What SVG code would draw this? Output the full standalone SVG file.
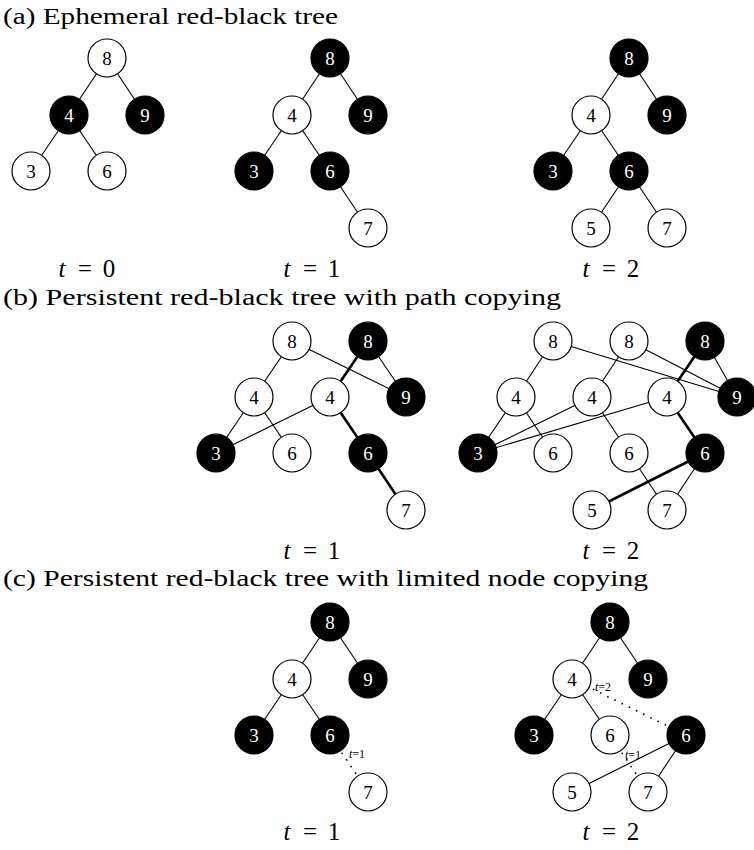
<svg xmlns="http://www.w3.org/2000/svg" width="754" height="850" viewBox="0 0 754 850" font-family="'Liberation Serif', 'Times New Roman', Times, 'DejaVu Serif', serif">
<style>
text{font-family:'Liberation Serif','Times New Roman',Times,'DejaVu Serif',serif}
.title{font-size:24px;fill:#000}
.lab{font-size:25px;fill:#000;text-anchor:middle}
.it{font-style:italic}
.sm{font-size:12px;fill:#000}
.w circle{fill:#fff;stroke:#000;stroke-width:1.2}
.b circle{fill:#000;stroke:#000;stroke-width:1.2}
.w text,.b text{font-size:19px;text-anchor:middle}
.w text{fill:#000}
.b text{fill:#fff}
.e line{stroke:#000;stroke-width:1.1}
.e line.k{stroke-width:2.6}
.e line.d{stroke-width:1.8;stroke-dasharray:0 8;stroke-linecap:round}
</style>
<rect width="754" height="850" fill="#fff"/>
<text class="title" x="3" y="24" textLength="335" lengthAdjust="spacingAndGlyphs">(a) Ephemeral red-black tree</text>
<text class="title" x="3" y="305" textLength="558" lengthAdjust="spacingAndGlyphs">(b) Persistent red-black tree with path copying</text>
<text class="title" x="3" y="586" textLength="645" lengthAdjust="spacingAndGlyphs">(c) Persistent red-black tree with limited node copying</text>

<g id="connectors" class="e">
<!-- (a) t=0 -->
<line x1="107" y1="58" x2="69" y2="115"/><line x1="107" y1="58" x2="145" y2="115"/>
<line x1="69" y1="115" x2="31" y2="171"/><line x1="69" y1="115" x2="107" y2="171"/>
<!-- (a) t=1 -->
<line x1="330" y1="58" x2="292" y2="115"/><line x1="330" y1="58" x2="368" y2="115"/>
<line x1="292" y1="115" x2="254" y2="171"/><line x1="292" y1="115" x2="330" y2="171"/>
<line x1="330" y1="171" x2="368" y2="228"/>
<!-- (a) t=2 -->
<line x1="629" y1="58" x2="591" y2="115"/><line x1="629" y1="58" x2="667" y2="115"/>
<line x1="591" y1="115" x2="553" y2="171"/><line x1="591" y1="115" x2="629" y2="171"/>
<line x1="629" y1="171" x2="591" y2="228"/><line x1="629" y1="171" x2="667" y2="228"/>
<!-- (b) t=1 -->
<line x1="292" y1="341" x2="254" y2="397"/><line x1="292" y1="341" x2="406" y2="397"/>
<line x1="368" y1="341" x2="406" y2="397"/>
<line x1="254" y1="397" x2="216" y2="453"/><line x1="254" y1="397" x2="292" y2="453"/>
<line x1="330" y1="397" x2="216" y2="453"/>
<line class="k" x1="368" y1="341" x2="330" y2="397"/>
<line class="k" x1="330" y1="397" x2="368" y2="453"/>
<line class="k" x1="368" y1="453" x2="406" y2="510"/>
<!-- (b) t=2 -->
<line x1="553" y1="341" x2="516" y2="397"/><line x1="553" y1="341" x2="737" y2="397"/>
<line x1="629" y1="341" x2="592" y2="397"/><line x1="629" y1="341" x2="737" y2="397"/>
<line x1="705" y1="341" x2="737" y2="397"/>
<line x1="516" y1="397" x2="478" y2="453"/><line x1="516" y1="397" x2="553" y2="453"/>
<line x1="592" y1="397" x2="478" y2="453"/><line x1="592" y1="397" x2="629" y2="453"/>
<line x1="667" y1="397" x2="478" y2="453"/>
<line x1="629" y1="453" x2="667" y2="510"/><line x1="705" y1="453" x2="667" y2="510"/>
<line class="k" x1="705" y1="341" x2="667" y2="397"/>
<line class="k" x1="667" y1="397" x2="705" y2="453"/>
<line class="k" x1="705" y1="453" x2="592" y2="510"/>
<!-- (c) t=1 -->
<line x1="330" y1="622" x2="292" y2="679"/><line x1="330" y1="622" x2="368" y2="679"/>
<line x1="292" y1="679" x2="254" y2="735"/><line x1="292" y1="679" x2="330" y2="735"/>
<line class="d" x1="330" y1="735" x2="368" y2="792" stroke-dashoffset="2"/>
<!-- (c) t=2 -->
<line x1="610" y1="622" x2="572" y2="679"/><line x1="610" y1="622" x2="648" y2="679"/>
<line x1="572" y1="679" x2="534" y2="735"/><line x1="572" y1="679" x2="610" y2="735"/>
<line class="d" x1="572" y1="679" x2="686" y2="735"/>
<line class="d" x1="610" y1="735" x2="648" y2="792" stroke-dashoffset="2"/>
<line x1="686" y1="735" x2="572" y2="792"/><line x1="686" y1="735" x2="648" y2="792"/>
</g>

<!-- (a) t=0 nodes -->
<g id="a0-8" class="w"><circle cx="107" cy="58" r="19"/><text x="107" y="64.5">8</text></g>
<g id="a0-4" class="b"><circle cx="69" cy="115" r="19"/><text x="69" y="121.5">4</text></g>
<g id="a0-9" class="b"><circle cx="145" cy="115" r="19"/><text x="145" y="121.5">9</text></g>
<g id="a0-3" class="w"><circle cx="31" cy="171" r="19"/><text x="31" y="177.5">3</text></g>
<g id="a0-6" class="w"><circle cx="107" cy="171" r="19"/><text x="107" y="177.5">6</text></g>
<!-- (a) t=1 nodes -->
<g id="a1-8" class="b"><circle cx="330" cy="58" r="19"/><text x="330" y="64.5">8</text></g>
<g id="a1-4" class="w"><circle cx="292" cy="115" r="19"/><text x="292" y="121.5">4</text></g>
<g id="a1-9" class="b"><circle cx="368" cy="115" r="19"/><text x="368" y="121.5">9</text></g>
<g id="a1-3" class="b"><circle cx="254" cy="171" r="19"/><text x="254" y="177.5">3</text></g>
<g id="a1-6" class="b"><circle cx="330" cy="171" r="19"/><text x="330" y="177.5">6</text></g>
<g id="a1-7" class="w"><circle cx="368" cy="228" r="19"/><text x="368" y="234.5">7</text></g>
<!-- (a) t=2 nodes -->
<g id="a2-8" class="b"><circle cx="629" cy="58" r="19"/><text x="629" y="64.5">8</text></g>
<g id="a2-4" class="w"><circle cx="591" cy="115" r="19"/><text x="591" y="121.5">4</text></g>
<g id="a2-9" class="b"><circle cx="667" cy="115" r="19"/><text x="667" y="121.5">9</text></g>
<g id="a2-3" class="b"><circle cx="553" cy="171" r="19"/><text x="553" y="177.5">3</text></g>
<g id="a2-6" class="b"><circle cx="629" cy="171" r="19"/><text x="629" y="177.5">6</text></g>
<g id="a2-5" class="w"><circle cx="591" cy="228" r="19"/><text x="591" y="234.5">5</text></g>
<g id="a2-7" class="w"><circle cx="667" cy="228" r="19"/><text x="667" y="234.5">7</text></g>
<!-- (b) t=1 nodes -->
<g id="b1-8a" class="w"><circle cx="292" cy="341" r="19"/><text x="292" y="347.5">8</text></g>
<g id="b1-8b" class="b"><circle cx="368" cy="341" r="19"/><text x="368" y="347.5">8</text></g>
<g id="b1-4a" class="w"><circle cx="254" cy="397" r="19"/><text x="254" y="403.5">4</text></g>
<g id="b1-4b" class="w"><circle cx="330" cy="397" r="19"/><text x="330" y="403.5">4</text></g>
<g id="b1-9" class="b"><circle cx="406" cy="397" r="19"/><text x="406" y="403.5">9</text></g>
<g id="b1-3" class="b"><circle cx="216" cy="453" r="19"/><text x="216" y="459.5">3</text></g>
<g id="b1-6a" class="w"><circle cx="292" cy="453" r="19"/><text x="292" y="459.5">6</text></g>
<g id="b1-6b" class="b"><circle cx="368" cy="453" r="19"/><text x="368" y="459.5">6</text></g>
<g id="b1-7" class="w"><circle cx="406" cy="510" r="19"/><text x="406" y="516.5">7</text></g>
<!-- (b) t=2 nodes -->
<g id="b2-8a" class="w"><circle cx="553" cy="341" r="19"/><text x="553" y="347.5">8</text></g>
<g id="b2-8b" class="w"><circle cx="629" cy="341" r="19"/><text x="629" y="347.5">8</text></g>
<g id="b2-8c" class="b"><circle cx="705" cy="341" r="19"/><text x="705" y="347.5">8</text></g>
<g id="b2-4a" class="w"><circle cx="516" cy="397" r="19"/><text x="516" y="403.5">4</text></g>
<g id="b2-4b" class="w"><circle cx="592" cy="397" r="19"/><text x="592" y="403.5">4</text></g>
<g id="b2-4c" class="w"><circle cx="667" cy="397" r="19"/><text x="667" y="403.5">4</text></g>
<g id="b2-9" class="b"><circle cx="737" cy="397" r="19"/><text x="737" y="403.5">9</text></g>
<g id="b2-3" class="b"><circle cx="478" cy="453" r="19"/><text x="478" y="459.5">3</text></g>
<g id="b2-6a" class="w"><circle cx="553" cy="453" r="19"/><text x="553" y="459.5">6</text></g>
<g id="b2-6b" class="w"><circle cx="629" cy="453" r="19"/><text x="629" y="459.5">6</text></g>
<g id="b2-6c" class="b"><circle cx="705" cy="453" r="19"/><text x="705" y="459.5">6</text></g>
<g id="b2-5" class="w"><circle cx="592" cy="510" r="19"/><text x="592" y="516.5">5</text></g>
<g id="b2-7" class="w"><circle cx="667" cy="510" r="19"/><text x="667" y="516.5">7</text></g>
<!-- (c) t=1 nodes -->
<g id="c1-8" class="b"><circle cx="330" cy="622" r="19"/><text x="330" y="628.5">8</text></g>
<g id="c1-4" class="w"><circle cx="292" cy="679" r="19"/><text x="292" y="685.5">4</text></g>
<g id="c1-9" class="b"><circle cx="368" cy="679" r="19"/><text x="368" y="685.5">9</text></g>
<g id="c1-3" class="b"><circle cx="254" cy="735" r="19"/><text x="254" y="741.5">3</text></g>
<g id="c1-6" class="b"><circle cx="330" cy="735" r="19"/><text x="330" y="741.5">6</text></g>
<g id="c1-7" class="w"><circle cx="368" cy="792" r="19"/><text x="368" y="798.5">7</text></g>
<!-- (c) t=2 nodes -->
<g id="c2-8" class="b"><circle cx="610" cy="622" r="19"/><text x="610" y="628.5">8</text></g>
<g id="c2-4" class="w"><circle cx="572" cy="679" r="19"/><text x="572" y="685.5">4</text></g>
<g id="c2-9" class="b"><circle cx="648" cy="679" r="19"/><text x="648" y="685.5">9</text></g>
<g id="c2-3" class="b"><circle cx="534" cy="735" r="19"/><text x="534" y="741.5">3</text></g>
<g id="c2-6a" class="w"><circle cx="610" cy="735" r="19"/><text x="610" y="741.5">6</text></g>
<g id="c2-6b" class="b"><circle cx="686" cy="735" r="19"/><text x="686" y="741.5">6</text></g>
<g id="c2-5" class="w"><circle cx="572" cy="792" r="19"/><text x="572" y="798.5">5</text></g>
<g id="c2-7" class="w"><circle cx="648" cy="792" r="19"/><text x="648" y="798.5">7</text></g>

<!-- small edge labels -->
<text class="sm" x="349" y="758"><tspan class="it">t</tspan>=1</text>
<text class="sm" x="595" y="691"><tspan class="it">t</tspan>=2</text>
<text class="sm" x="625" y="759"><tspan class="it">t</tspan>=1</text>

<!-- time labels -->
<text class="lab" y="277"><tspan class="it" x="62">t</tspan><tspan x="85">=</tspan><tspan x="109">0</tspan></text>
<text class="lab" y="277"><tspan class="it" x="287">t</tspan><tspan x="310">=</tspan><tspan x="334">1</tspan></text>
<text class="lab" y="277"><tspan class="it" x="586">t</tspan><tspan x="609">=</tspan><tspan x="633">2</tspan></text>
<text class="lab" y="559"><tspan class="it" x="287">t</tspan><tspan x="310">=</tspan><tspan x="334">1</tspan></text>
<text class="lab" y="559"><tspan class="it" x="586">t</tspan><tspan x="609">=</tspan><tspan x="633">2</tspan></text>
<text class="lab" y="840"><tspan class="it" x="287">t</tspan><tspan x="310">=</tspan><tspan x="334">1</tspan></text>
<text class="lab" y="840"><tspan class="it" x="586">t</tspan><tspan x="609">=</tspan><tspan x="633">2</tspan></text>
</svg>
